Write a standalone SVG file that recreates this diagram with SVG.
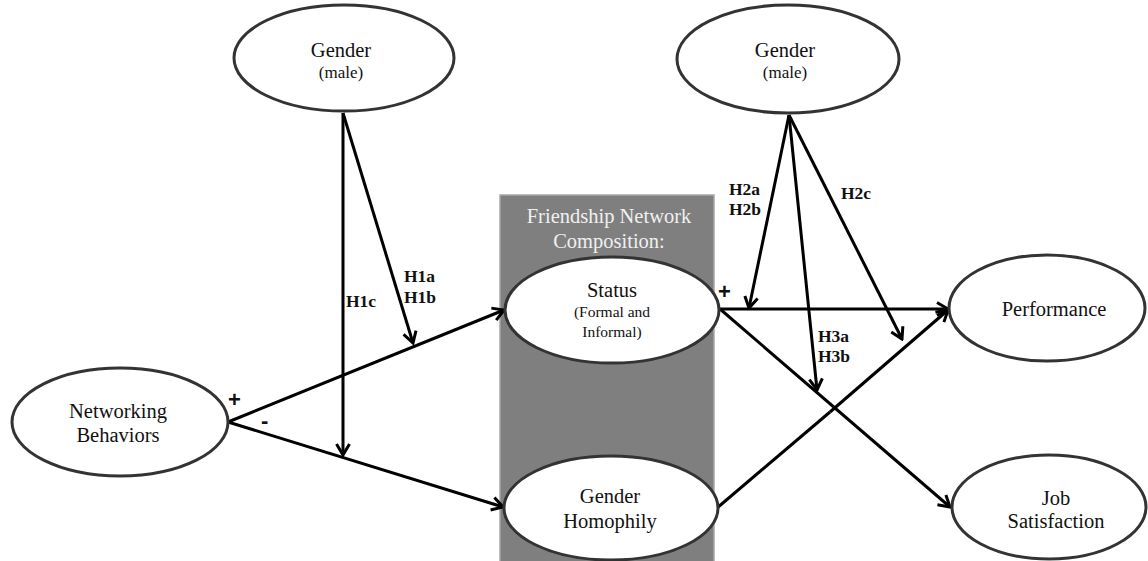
<svg xmlns="http://www.w3.org/2000/svg" width="1148" height="561" viewBox="0 0 1148 561">
<defs>
<style>
.node ellipse{fill:#fff;stroke:#333;stroke-width:3}
.t{font-family:"Liberation Serif","Times New Roman",serif;fill:#111;text-anchor:middle}
.big{font-size:20.5px}
.sm{font-size:17px}
.xs{font-size:15.5px}
.h{font-family:"Liberation Serif","Times New Roman",serif;font-weight:bold;font-size:17.5px;fill:#111}
.sg{font-family:"Liberation Sans",Arial,sans-serif;font-weight:bold;font-size:22px;fill:#111}
.conn line{stroke:#000;stroke-width:3;fill:none;marker-end:url(#ah)}
.conn line.plain{marker-end:none}
</style>
<marker id="ah" viewBox="-13 -9 15 18" refX="0" refY="0" markerWidth="15" markerHeight="18" markerUnits="userSpaceOnUse" orient="auto">
<path d="M-11,-6.5 L0,0 L-11,6.5" fill="none" stroke="#000" stroke-width="3"/>
</marker>
</defs>
<rect x="0" y="0" width="1148" height="561" fill="#fff"/>
<g id="panel">
<rect x="500" y="195" width="214" height="370" fill="#7f7f7f" stroke="#a8a8a8" stroke-width="1.5"/>
<text class="t big" x="609" y="223" style="fill:#f0f0f0">Friendship Network</text>
<text class="t big" x="609" y="248" style="fill:#f0f0f0">Composition:</text>
</g>
<g class="conn" id="connectors">
<line x1="228" y1="422" x2="504" y2="310"/>
<line x1="228" y1="422" x2="503" y2="507"/>
<line x1="343" y1="113" x2="343" y2="455"/>
<line x1="343" y1="113" x2="413" y2="343"/>
<line x1="720" y1="309" x2="948" y2="309"/>
<line x1="720" y1="309" x2="950" y2="507"/>
<line class="plain" x1="717" y1="508" x2="830" y2="412"/>
<line x1="830" y1="412" x2="948" y2="310"/>
<line x1="789" y1="115" x2="749" y2="308"/>
<line x1="789" y1="115" x2="817" y2="390"/>
<line x1="789" y1="115" x2="902" y2="339"/>
</g>
<g id="gender-left" class="node">
<ellipse cx="344" cy="58" rx="110" ry="53"/>
<text class="t big" x="341" y="57">Gender</text>
<text class="t sm" x="341" y="78">(male)</text>
</g>
<g id="gender-right" class="node">
<ellipse cx="788" cy="59" rx="111" ry="54"/>
<text class="t big" x="785" y="57">Gender</text>
<text class="t sm" x="785" y="78">(male)</text>
</g>
<g id="networking" class="node">
<ellipse cx="120" cy="422" rx="108" ry="54"/>
<text class="t big" x="118" y="418">Networking</text>
<text class="t big" x="118" y="442">Behaviors</text>
</g>
<g id="status" class="node">
<ellipse cx="612" cy="310" rx="107" ry="53"/>
<text class="t big" x="612" y="297">Status</text>
<text class="t xs" x="612" y="317">(Formal and</text>
<text class="t xs" x="612" y="337">Informal)</text>
</g>
<g id="homophily" class="node">
<ellipse cx="611" cy="508" rx="107" ry="52"/>
<text class="t big" x="610" y="503">Gender</text>
<text class="t big" x="610" y="528">Homophily</text>
</g>
<g id="performance" class="node">
<ellipse cx="1047" cy="308" rx="98" ry="53"/>
<text class="t big" x="1054" y="316">Performance</text>
</g>
<g id="jobsat" class="node">
<ellipse cx="1049" cy="507" rx="97" ry="52"/>
<text class="t big" x="1056" y="505">Job</text>
<text class="t big" x="1056" y="528">Satisfaction</text>
</g>
<g id="labels">
<text class="h" x="404" y="282">H1a</text>
<text class="h" x="404" y="303">H1b</text>
<text class="h" x="346" y="307">H1c</text>
<text class="h" x="729" y="195">H2a</text>
<text class="h" x="729" y="215">H2b</text>
<text class="h" x="841" y="199">H2c</text>
<text class="h" x="818" y="342">H3a</text>
<text class="h" x="818" y="362">H3b</text>
<text class="sg" x="228" y="407">+</text>
<text class="sg" x="261" y="428">-</text>
<text class="sg" x="718" y="299">+</text>
</g>
</svg>
